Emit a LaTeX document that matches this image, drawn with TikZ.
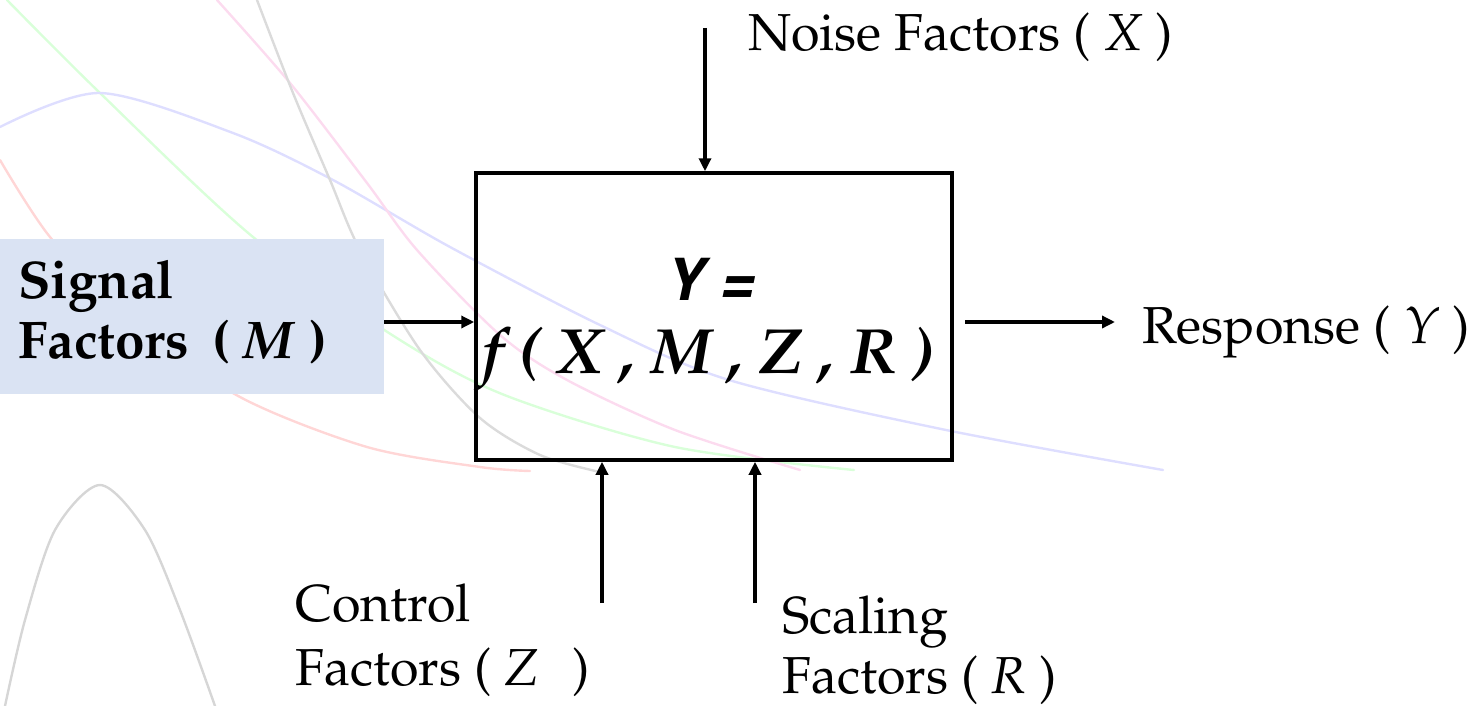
\documentclass[tikz,border=0pt]{standalone}
\usepackage[T1]{fontenc}
\usepackage{mathpazo}
\usetikzlibrary{arrows.meta}
\tikzset{
  arr/.style={line width=3.5pt, -{Triangle[length=13pt,width=12pt]}},
  deco/.style={line width=2.4pt, line cap=round},
  lbl/.style={inner sep=0pt, anchor=base west, align=left},
}
\definecolor{sigfill}{HTML}{DAE3F3}
\begin{document}
\begin{tikzpicture}[x=1pt,y=-1pt]
\useasboundingbox (0,0) rectangle (1479,706);
% decorative background curves
\draw[deco, red!16] plot[smooth] coordinates {(0,160) (50,237) (130,320) (240,397) (367,447) (480,467) (530,471)};
\draw[deco, green!15] plot[smooth] coordinates {(7,0) (100,93) (253,237) (400,340) (507,396) (675,447) (854,470)};
\draw[deco, blue!13] plot[smooth] coordinates {(0,127) (100,93) (233,133) (333,180) (450,247) (600,325) (729,380) (946,430) (1163,470)};
\draw[deco, magenta!14] plot[smooth] coordinates {(217,0) (290,83) (367,183) (417,250) (500,335) (567,380) (675,430) (800,470)};
\draw[deco, black!14] plot[smooth] coordinates {(257,0) (293,93) (330,180) (360,250) (420,350) (480,418) (540,455) (600,472)};
\draw[deco, black!16] plot[smooth] coordinates {(5,706) (25,620) (55,530) (100,485) (145,530) (180,610) (215,706)};
% signal box
\node[fill=sigfill, minimum width=384pt, minimum height=155pt, inner sep=0, anchor=north west] (sig) at (0,239) {};
\node[lbl, font=\fontsize{53}{60}\selectfont\bfseries] (sigtxt) at (18,358) {Signal\\Factors\hspace{0.45em}( \textit{M} )};
% system box
\node[draw, line width=3.5pt, minimum width=476pt, minimum height=287pt, inner sep=0] (sys) at (714,316.5) {};
\node[inner sep=0, anchor=base, font=\fontsize{58}{60}\usefont{T1}{phv}{b}{sl}] (yeq) at (709,300) {Y =};
\node[inner sep=0, anchor=base, font=\fontsize{64}{70}\selectfont\bfseries\itshape] (feq) at (708,373) {f ( X , M , Z , R )};
% labels
\node[lbl, font=\fontsize{52}{64}\selectfont] (noise) at (748,51) {Noise Factors ( \textit{X} )};
\node[lbl, font=\fontsize{52}{64}\selectfont] (resp) at (1142,343) {Response ( \textit{Y} )};
\node[lbl, font=\fontsize{52}{64}\selectfont] (ctrl) at (295,685) {Control\\Factors ( \textit{Z}\hspace{0.4em} )};
\node[lbl, font=\fontsize{52}{60}\selectfont] (scal) at (782,693) {Scaling\\Factors ( \textit{R} )};
% connectors
\coordinate (nz) at (705,28);
\draw[arr] (nz) -- (nz |- sys.north);
\coordinate (sg) at (384,322);
\draw[arr] (sg) -- (sg -| sys.west);
\coordinate (rs) at (965,322);
\coordinate (re) at (1115,322);
\draw[arr] (rs) -- (re);
\coordinate (ct) at (602,603);
\draw[arr] (ct) -- (ct |- sys.south);
\coordinate (sc) at (755,603);
\draw[arr] (sc) -- (sc |- sys.south);
\end{tikzpicture}
\end{document}
